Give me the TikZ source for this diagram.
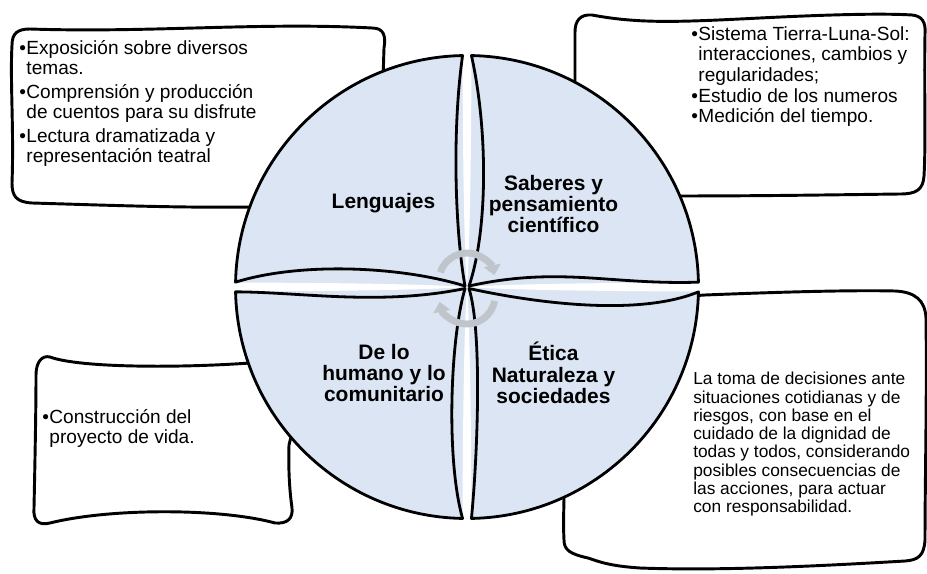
\documentclass[tikz,border=0pt]{standalone}
\usepackage{fontspec}
\setmainfont{Liberation Sans}
\usetikzlibrary{arrows.meta,calc}
\definecolor{quadblue}{RGB}{219,229,243}
\definecolor{cycgray}{RGB}{192,197,203}
\newcommand{\bitem}{\makebox[5.4pt][l]{•}}
\newcommand{\bgap}{\hspace*{5.4pt}}

\begin{document}
\begin{tikzpicture}[x=0.75pt,y=-0.75pt]
\tikzset{box/.style = {draw, fill=white, line width=2.2pt, line join=round}}
\tikzset{quad/.style = {draw, line width=2.1pt, line join=round}}
\tikzset{cyc/.style = {draw=cycgray, line width=5.2pt, -{Triangle[width=12.5pt,length=7.5pt]}}}
\tikzset{title/.style = {font=\bfseries\fontsize{15.7}{16}\selectfont, align=center, inner sep=0pt}}
\tikzset{txt/.style = {font=\fontsize{14.3}{15}\selectfont, align=left, inner sep=0pt, anchor=north west}}
\useasboundingbox (0,0) rectangle (927,574);
% boxes
\draw[box] (30,29) .. controls (150,33) and (260,22) .. (372,28)
  .. controls (384,28) and (386,36) .. (384,48) -- (382,110) -- (300,207) -- (250,207)
  .. controls (180,208) and (100,205) .. (32,203)
  .. controls (16,202) and (12,196) .. (12,183)
  .. controls (14,130) and (10,80) .. (12,45)
  .. controls (12,33) and (18,29) .. (30,29) -- cycle;
\draw[box] (592,15) .. controls (640,24) and (680,22) .. (760,18)
  .. controls (820,15) and (880,13) .. (912,15)
  .. controls (922,16) and (926,22) .. (925,34)
  .. controls (924,90) and (926,140) .. (924,176)
  .. controls (923,190) and (916,194) .. (900,194)
  .. controls (820,195) and (760,196) .. (670,196) -- (590,130) -- (575,90) -- (575,32)
  .. controls (575,21) and (580,14) .. (592,15) -- cycle;
\draw[box] (50,357) .. controls (80,368) and (180,368) .. (250,363) -- (300,400) -- (289,445)
  .. controls (288,480) and (291,500) .. (292,508)
  .. controls (293,518) and (288,524) .. (275,523)
  .. controls (220,508) and (110,508) .. (50,523)
  .. controls (38,526) and (33,520) .. (34,508)
  .. controls (35,460) and (36,410) .. (36,375)
  .. controls (36,362) and (42,355) .. (50,357) -- cycle;
\draw[box] (690,296) -- (705,295) .. controls (780,292) and (850,290) .. (895,291)
  .. controls (915,292) and (925,300) .. (926,318)
  .. controls (927,400) and (925,480) .. (925,540)
  .. controls (924,556) and (918,560) .. (905,561)
  .. controls (820,566) and (720,571) .. (640,568)
  .. controls (610,566) and (600,562) .. (588,558)
  .. controls (570,554) and (564,550) .. (564,540)
  .. controls (563,520) and (564,510) .. (564,495) -- (600,420) -- cycle;
% circle
\fill[quadblue] (467,287) circle[radius=231.5];
\fill[white] (235,282.5) .. controls (380,283) and (440,285) .. (467,287)
  .. controls (440,289) and (380,291) .. (235,291.5) -- cycle;
\fill[white] (699,282.5) .. controls (554,283) and (494,285) .. (467,287)
  .. controls (494,289) and (554,291) .. (699,291.5) -- cycle;
\fill[white] (462.5,55.5) .. controls (463,200) and (465,260) .. (467,287)
  .. controls (469,260) and (471,200) .. (471.5,55.5) -- cycle;
\fill[white] (462.5,518.5) .. controls (463,380) and (465,310) .. (467,287)
  .. controls (469,310) and (471,380) .. (471.5,518.5) -- cycle;
% quadrants
\draw[quad] (467,287) ++(268.9:231.5) coordinate (tlA)
  arc[start angle=268.9, end angle=181.2, radius=231.5]
  .. controls (300,262) and (400,266) .. (465,286)
  .. controls (455,230) and (452,130) .. (tlA) -- cycle;
\draw[quad] (467,287) ++(271.1:231.5) coordinate (trA)
  arc[start angle=271.1, end angle=358.8, radius=231.5]
  .. controls (610,285) and (560,266) .. (469,286)
  .. controls (488,230) and (488,130) .. (trA) -- cycle;
\draw[quad] (469,288.5) coordinate (brA) .. controls (482,330) and (478,450) .. ($(467,287)+(88.9:231.5)$)
  arc[start angle=88.9, end angle=1.2, radius=231.5]
  .. controls (640,316) and (540,304) .. (brA) -- cycle;
\draw[quad] (465,288.5) coordinate (blA) .. controls (450,340) and (446,460) .. ($(467,287)+(91.1:231.5)$)
  arc[start angle=91.1, end angle=178.8, radius=231.5]
  .. controls (300,292) and (380,306) .. (blA) -- cycle;
% cycle arrows
\draw[cyc] (467,281) ++(198:28) arc[start angle=198, end angle=348, radius=28];
\draw[cyc] (467,296) ++(10:28) arc[start angle=10, end angle=168, radius=28];
% titles
\node[title] (lenguajes) at (383.5,203) {Lenguajes};
\node[title] (saberes) at (553.5,204) {Saberes y\\pensamiento\\científico};
\node[title] (humano) at (384,373) {De lo\\humano y lo\\comunitario};
\node[title] (etica) at (553.5,373) {Ética\\Naturaleza y\\sociedades};
% texts
\node[txt] (lenguajesTxt) at (19,40) {\bitem Exposición sobre diversos\\ \bgap temas.\\[3pt]
  \bitem Comprensión y producción\\ \bgap de cuentos para su disfrute\\[3pt]
  \bitem Lectura dramatizada y\\ \bgap representación teatral};
\node[txt, font=\fontsize{14.3}{15.5}\selectfont] (saberesTxt) at (691,26) {\bitem Sistema Tierra-Luna-Sol:\\ \bgap interacciones, cambios y\\ \bgap regularidades;\\
  \bitem Estudio de los numeros\\ \bitem Medición del tiempo.};
\node[txt] (humanoTxt) at (42,409) {\bitem Construcción del\\ \bgap proyecto de vida.};
\node[txt, font=\fontsize{13}{13.7}\selectfont] (eticaTxt) at (693,372) {La toma de decisiones ante\\situaciones cotidianas y de\\riesgos, con base en el\\cuidado de la dignidad de\\todas y todos, considerando\\posibles consecuencias de\\las acciones, para actuar\\con responsabilidad.};
\end{tikzpicture}
\end{document}
